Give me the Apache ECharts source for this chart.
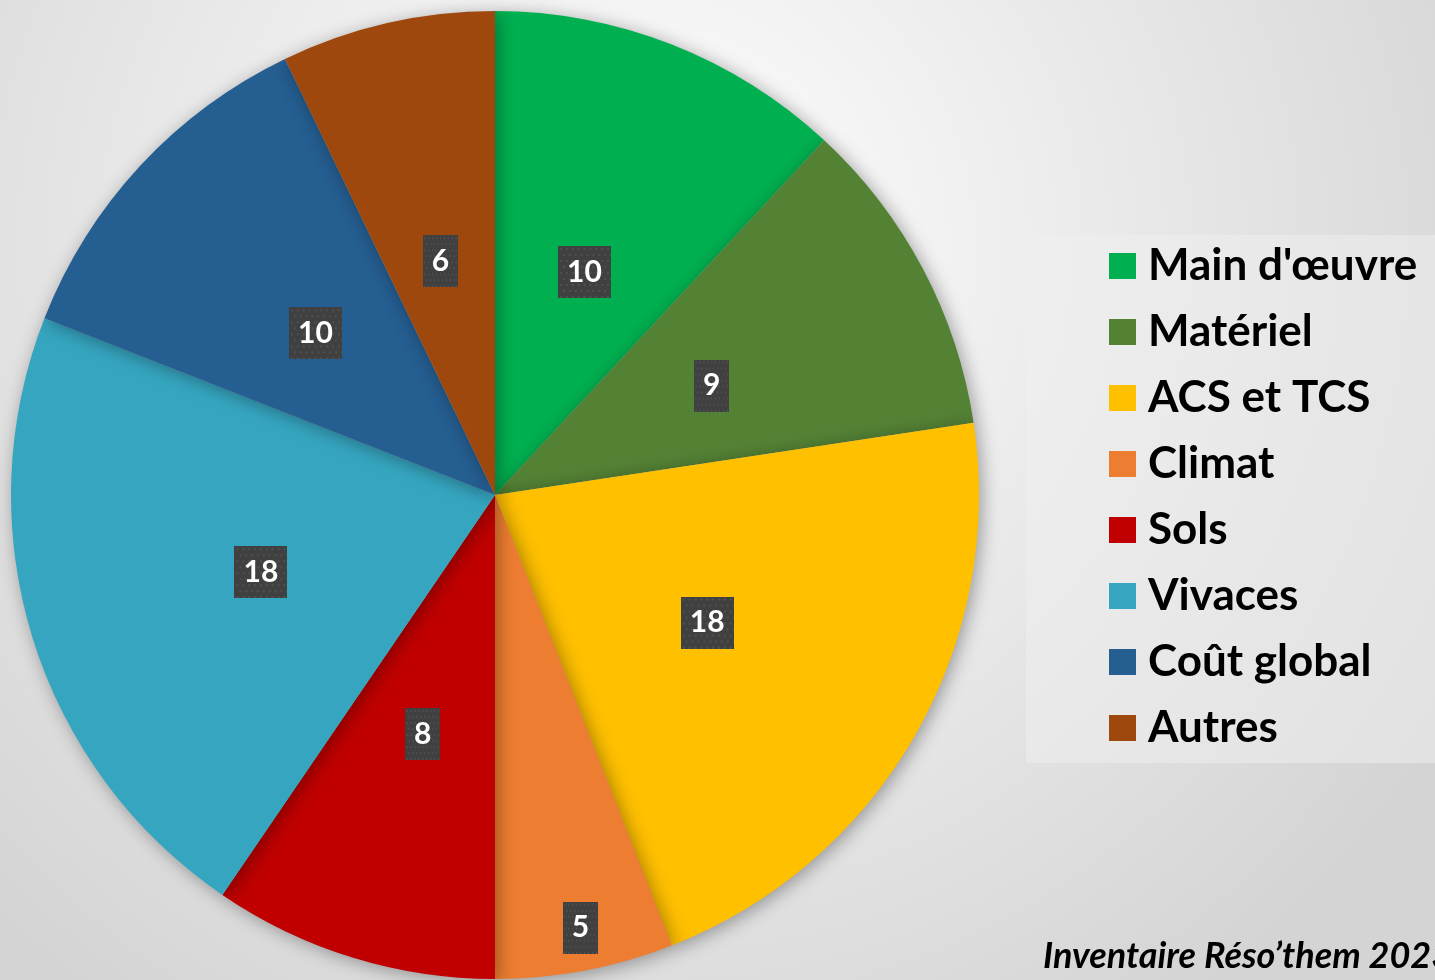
<!DOCTYPE html>
<html>
<head>
<meta charset="utf-8">
<script src="https://cdn.jsdelivr.net/npm/echarts@6/dist/echarts.min.js"></script>
<style>
  html, body { margin: 0; padding: 0; }
  #main { width: 1435px; height: 980px; }
</style>
</head>
<body>
<div id="main"></div>
<script>
var categories = ["Main d'œuvre", "Matériel", "ACS et TCS", "Climat", "Sols", "Vivaces", "Coût global", "Autres"];
var counts = [10, 9, 18, 5, 8, 18, 10, 6];
var colors = ['#00b050', '#548235', '#ffc000', '#ed7d31', '#c00000', '#36a6c0', '#255e91', '#9e480e'];
var footnote = 'Inventaire Réso’them 2023';

// dotted dark fill used behind the data labels
function dotPattern() {
  var c = document.createElement('canvas');
  c.width = 54; c.height = 52;
  var ctx = c.getContext('2d');
  ctx.fillStyle = '#404040';
  ctx.fillRect(0, 0, 54, 52);
  ctx.fillStyle = '#505050';
  var row = 0;
  for (var y = 2; y < 52; y += 6, row++) {
    for (var x = (row % 2 ? 5 : 2); x < 54; x += 6) {
      ctx.fillRect(x, y, 2, 2);
    }
  }
  return c;
}

var myChart = echarts.init(document.getElementById('main'));

var pieData = categories.map(function (name, i) {
  var item = { name: name, value: counts[i], itemStyle: { color: colors[i] } };
  // the small "Climat" label sits near the rim in the original
  if (i === 3) item.label = { offset: [40, 192] };
  return item;
});

myChart.setOption({
  backgroundColor: new echarts.graphic.RadialGradient(0.45, 0.25, 0.95, [
    { offset: 0, color: '#ffffff' },
    { offset: 1, color: '#d4d4d4' }
  ]),
  textStyle: { fontFamily: 'Lato' },
  graphic: [{
    type: 'text',
    left: 1043,
    top: 938,
    style: {
      text: footnote,
      font: 'italic bold 36px Lato',
      fill: '#000'
    }
  }],
  legend: {
    orient: 'vertical',
    left: 1026,
    top: 235,
    padding: [9, 120, 13, 83],
    backgroundColor: 'rgba(239,239,239,0.5)',
    itemWidth: 27,
    itemHeight: 26,
    itemGap: 22,
    icon: 'rect',
    selectedMode: false,
    textStyle: {
      fontFamily: 'Lato',
      fontWeight: 'bold',
      fontSize: 44,
      color: '#000',
      padding: [0, 0, 0, 7]
    },
    data: categories
  },
  series: [{
    type: 'pie',
    center: [495, 495],
    radius: 484,
    startAngle: 90,
    clockwise: true,
    avoidLabelOverlap: false,
    itemStyle: {
      borderWidth: 0,
      shadowBlur: 18,
      shadowColor: 'rgba(0,0,0,0.35)',
      shadowOffsetX: 3,
      shadowOffsetY: 3
    },
    label: {
      show: true,
      position: 'inside',
      offset: [0, 5],
      formatter: '{c}',
      color: '#fff',
      fontFamily: 'Lato',
      fontWeight: 'bold',
      fontSize: 30,
      lineHeight: 30,
      backgroundColor: { image: dotPattern() },
      padding: [11, 9],
      shadowBlur: 6,
      shadowColor: 'rgba(0,0,0,0.5)',
      shadowOffsetX: 3,
      shadowOffsetY: 3
    },
    labelLine: { show: false },
    emphasis: { disabled: true },
    data: pieData
  }]
});
</script>
</body>
</html>
